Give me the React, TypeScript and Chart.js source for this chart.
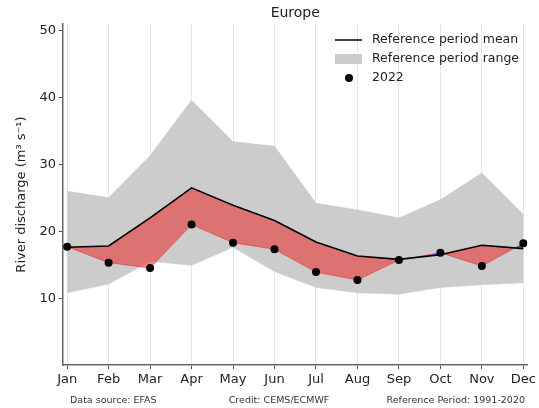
import React, { useEffect, useRef } from "react";
import { Chart, registerables } from "chart.js";
Chart.register(...registerables);

const months = ["Jan", "Feb", "Mar", "Apr", "May", "Jun", "Jul", "Aug", "Sep", "Oct", "Nov", "Dec"];
const refMean = [17.6, 17.8, 22.0, 26.5, 23.9, 21.6, 18.4, 16.3, 15.8, 16.5, 17.9, 17.4];
const refMax = [26.0, 25.0, 31.3, 39.6, 33.4, 32.7, 24.2, 23.2, 22.0, 24.7, 28.7, 22.5];
const refMin = [10.8, 12.1, 15.5, 14.9, 17.6, 14.0, 11.6, 10.8, 10.6, 11.6, 12.0, 12.3];
const obs2022 = [17.7, 15.3, 14.5, 21.0, 18.3, 17.3, 13.9, 12.7, 15.7, 16.8, 14.8, 18.2];
const yTicks = [10, 20, 30, 40, 50];

const FONT = "'DejaVu Sans', sans-serif";
const TXT = "#222";

const pts = (arr: number[]) => arr.map((v, i) => ({ x: i, y: v }));

const decorPlugin = {
  id: "decor",
  afterDraw(chart: any) {
    const ctx = chart.ctx as CanvasRenderingContext2D;
    const ca = chart.chartArea;
    ctx.save();
    // title
    ctx.fillStyle = TXT;
    ctx.font = `14px ${FONT}`;
    ctx.textAlign = "center";
    ctx.textBaseline = "middle";
    ctx.fillText("Europe", (ca.left + ca.right) / 2, 13);
    // y label
    ctx.save();
    ctx.translate(22, (ca.top + ca.bottom) / 2);
    ctx.rotate(-Math.PI / 2);
    ctx.font = `13px ${FONT}`;
    ctx.fillText("River discharge (m³ s⁻¹)", 0, 0);
    ctx.restore();
    // legend
    ctx.textAlign = "left";
    ctx.font = `12.5px ${FONT}`;
    ctx.strokeStyle = "#000";
    ctx.lineWidth = 1.5;
    ctx.beginPath();
    ctx.moveTo(335, 40);
    ctx.lineTo(362, 40);
    ctx.stroke();
    ctx.fillStyle = TXT;
    ctx.fillText("Reference period mean", 372, 40);
    ctx.fillStyle = "#cccccc";
    ctx.fillRect(335, 54, 27, 10);
    ctx.fillStyle = TXT;
    ctx.fillText("Reference period range", 372, 59);
    ctx.fillStyle = "#000";
    ctx.beginPath();
    ctx.arc(349, 78, 4, 0, Math.PI * 2);
    ctx.fill();
    ctx.fillStyle = TXT;
    ctx.fillText("2022", 372, 78);
    // footer
    ctx.font = `9.5px ${FONT}`;
    ctx.fillStyle = "#333";
    ctx.textAlign = "left";
    ctx.fillText("Data source: EFAS", 70, 401);
    ctx.textAlign = "center";
    ctx.fillText("Credit: CEMS/ECMWF", 279, 401);
    ctx.textAlign = "right";
    ctx.fillText("Reference Period: 1991-2020", 525, 401);
    ctx.restore();
  },
};

export default function App() {
  const ref = useRef<HTMLCanvasElement | null>(null);
  useEffect(() => {
    if (!ref.current) return;
    const chart = new Chart(ref.current, {
      type: "line",
      data: {
        datasets: [
          {
            label: "2022 points",
            data: pts(obs2022),
            showLine: false,
            pointRadius: 4,
            pointBackgroundColor: "#000",
            pointBorderColor: "#000",
            pointBorderWidth: 0,
            borderWidth: 0,
            fill: false,
          },
          {
            label: "Reference period mean",
            data: pts(refMean),
            borderColor: "#000",
            borderWidth: 1.6,
            pointRadius: 0,
            fill: false,
            tension: 0,
          },
          {
            label: "2022 anomaly",
            data: pts(obs2022),
            borderColor: "rgba(235,40,40,0.55)",
            borderWidth: 1,
            pointRadius: 0,
            tension: 0,
            fill: { target: 1, above: "rgba(40,40,255,0.75)", below: "rgba(235,40,40,0.55)" },
          },
          {
            label: "Reference period range",
            data: pts(refMax),
            borderColor: "rgba(180,180,180,0.6)",
            borderWidth: 0.6,
            pointRadius: 0,
            backgroundColor: "#cccccc",
            tension: 0,
            fill: "+1",
          },
          {
            label: "min",
            data: pts(refMin),
            borderColor: "rgba(180,180,180,0.6)",
            borderWidth: 0.6,
            pointRadius: 0,
            tension: 0,
            fill: false,
          },
        ],
      },
      options: {
        animation: false,
        responsive: false,
        devicePixelRatio: 1,
        layout: { padding: { left: 0, right: 9, top: 24, bottom: 0 } },
        plugins: { legend: { display: false }, tooltip: { enabled: false }, title: { display: false } },
        scales: {
          x: {
            type: "linear",
            min: -0.1,
            max: 11.1,
            afterBuildTicks: (s: any) => {
              s.ticks = months.map((_, i) => ({ value: i }));
            },
            afterFit: (s: any) => {
              s.height = 43;
            },
            ticks: {
              autoSkip: false,
              maxRotation: 0,
              padding: 3,
              color: TXT,
              font: { family: FONT, size: 13 },
              callback: (v: any) => months[Math.round(Number(v))] ?? "",
            },
            grid: { color: "#e6e6e6", lineWidth: 1, tickColor: "#555", tickLength: 4 },
            border: { color: "#666", width: 1.5 },
          },
          y: {
            type: "linear",
            min: 0,
            max: 51,
            afterBuildTicks: (s: any) => {
              s.ticks = yTicks.map((v) => ({ value: v }));
            },
            afterFit: (s: any) => {
              s.width = 63;
            },
            ticks: {
              padding: 3,
              color: TXT,
              font: { family: FONT, size: 13 },
              callback: (v: any) => String(v),
            },
            grid: { drawOnChartArea: false, tickColor: "#555", tickLength: 4 },
            border: { color: "#666", width: 1.5 },
          },
        },
      } as any,
      plugins: [decorPlugin],
    });
    return () => chart.destroy();
  }, []);
  return (
    <div style={{ position: "fixed", left: 0, top: 0, width: 539, height: 408, background: "#fff" }}>
      <canvas ref={ref} width={539} height={408} style={{ width: 539, height: 408, display: "block" }} />
    </div>
  );
}
